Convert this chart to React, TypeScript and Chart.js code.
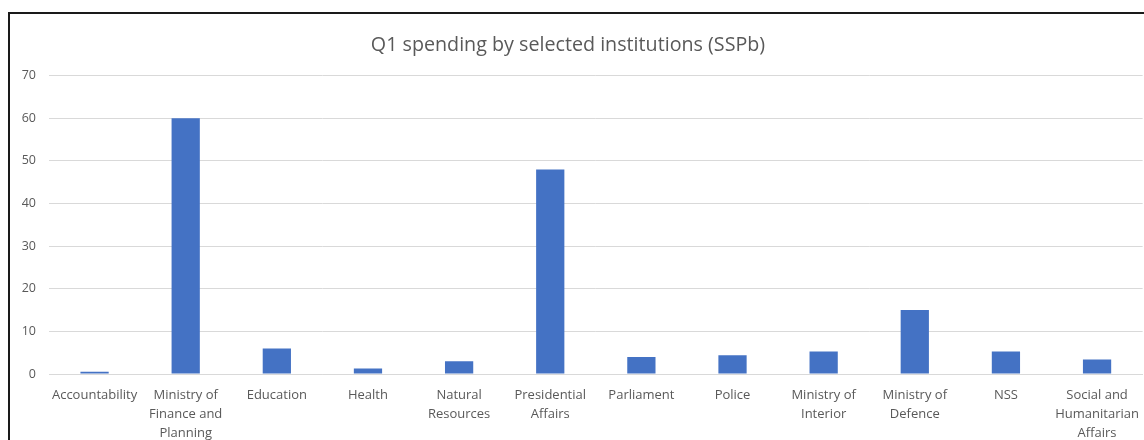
import React, { useEffect, useRef } from "react";
import { Chart, registerables } from "chart.js";

Chart.register(...registerables);

const categories: (string | string[])[] = [
  "Accountability",
  ["Ministry of", "Finance and", "Planning"],
  "Education",
  "Health",
  ["Natural", "Resources"],
  ["Presidential", "Affairs"],
  "Parliament",
  "Police",
  ["Ministry of", "Interior"],
  ["Ministry of", "Defence"],
  "NSS",
  ["Social and", "Humanitarian", "Affairs"],
];

const spending: number[] = [0.5, 60, 6, 1.3, 3, 48, 4, 4.4, 5.3, 15, 5.3, 3.4];

const yMin = 0;
const yMax = 70;
const yStep = 10;

const chartTitle = "Q1 spending by selected institutions (SSPb)";

export default function App() {
  const canvasRef = useRef<HTMLCanvasElement | null>(null);

  useEffect(() => {
    if (!canvasRef.current) return;
    const chart = new Chart(canvasRef.current, {
      type: "bar",
      data: {
        labels: categories,
        datasets: [
          {
            label: "Spending",
            data: spending,
            backgroundColor: "#4472C4",
            borderWidth: 0,
            categoryPercentage: 1,
            barPercentage: 0.31,
          },
        ],
      },
      options: {
        animation: false,
        responsive: false,
        maintainAspectRatio: false,
        layout: { padding: { left: 0, right: 2, top: 0, bottom: 18 } },
        plugins: {
          legend: { display: false },
          tooltip: { enabled: false },
          title: {
            display: true,
            text: chartTitle,
            color: "#595959",
            font: { family: "'Open Sans', sans-serif", size: 19.7, weight: "normal", lineHeight: 1.2 },
            padding: { top: 34, bottom: 18 },
          },
        },
        scales: {
          x: {
            grid: { display: false, drawTicks: false },
            border: { display: true, color: "#d9d9d9", width: 1 },
            ticks: {
              color: "#595959",
              font: { family: "'Open Sans', sans-serif", size: 13, lineHeight: 19 / 13 },
              padding: 12,
              maxRotation: 0,
              minRotation: 0,
              autoSkip: false,
            },
          },
          y: {
            min: yMin,
            max: yMax,
            grid: { color: "#d9d9d9", drawTicks: false, lineWidth: 1 },
            border: { display: false },
            ticks: {
              stepSize: yStep,
              color: "#595959",
              font: { family: "'Open Sans', sans-serif", size: 12.5 },
              padding: 13,
            },
            afterFit: (scale: any) => {
              scale.width = 62;
            },
          },
        },
      },
    });
    return () => chart.destroy();
  }, []);

  return (
    <div
      style={{
        position: "fixed",
        left: 0,
        top: 0,
        width: 1144,
        height: 440,
        overflow: "hidden",
        background: "#fff",
      }}
    >
      <canvas
        ref={canvasRef}
        width={1164}
        height={473}
        style={{ position: "absolute", left: -13, top: 0, width: 1164, height: 473 }}
      />
      <div
        style={{
          position: "absolute",
          left: 8,
          top: 12,
          width: 1200,
          height: 500,
          border: "2px solid #1a1a1a",
          boxSizing: "border-box",
          pointerEvents: "none",
        }}
      />
    </div>
  );
}
